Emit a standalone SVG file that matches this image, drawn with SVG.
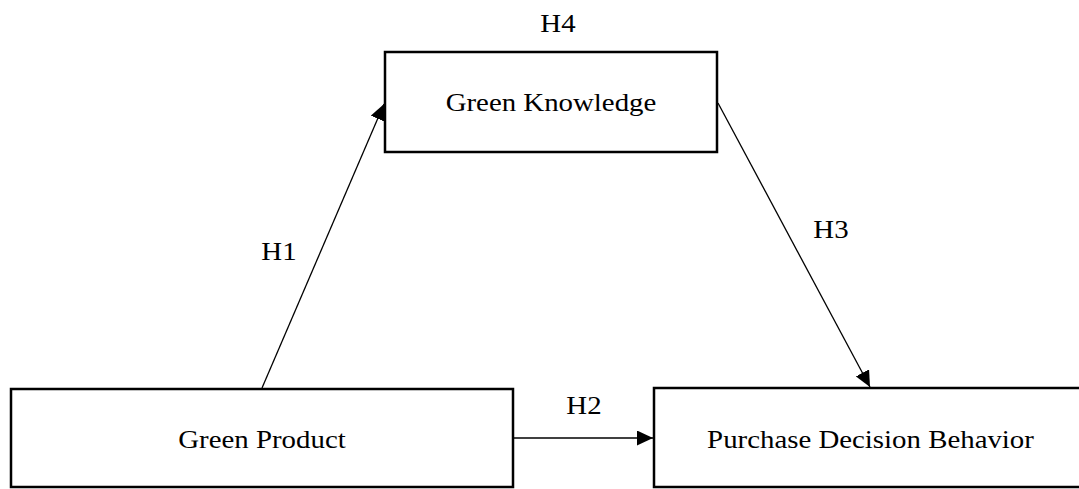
<svg xmlns="http://www.w3.org/2000/svg" width="1079" height="489" viewBox="0 0 1079 489">
  <style>
    .box { fill: #ffffff; stroke: #000000; stroke-width: 2.5; }
    .lbl { font-family: 'Liberation Serif', 'Times New Roman', Times, serif; font-size: 26px; fill: #000000; text-anchor: middle; }
    .edge { stroke: #000000; stroke-width: 1.3; fill: none; marker-end: url(#arrow); }
  </style>
  <defs>
    <marker id="arrow" markerUnits="userSpaceOnUse" markerWidth="16" markerHeight="15" refX="16" refY="7.5" orient="auto">
      <path d="M0,0 L16,7.5 L0,15 z" fill="#000000"/>
    </marker>
  </defs>
  <rect width="1079" height="489" fill="#ffffff"/>
  <g id="connectors">
    <line class="edge" x1="262" y1="388" x2="384" y2="104"/>
    <line class="edge" x1="718" y1="103" x2="870" y2="387"/>
    <line class="edge" x1="514" y1="438" x2="653" y2="438"/>
    <text class="lbl" x="279" y="260" transform="translate(279 0) scale(1.11 1) translate(-279 0)">H1</text>
    <text class="lbl" x="584" y="414" transform="translate(584 0) scale(1.11 1) translate(-584 0)">H2</text>
    <text class="lbl" x="831" y="238" transform="translate(831 0) scale(1.11 1) translate(-831 0)">H3</text>
  </g>
  <g id="green-knowledge">
    <text class="lbl" x="558" y="32" transform="translate(558 0) scale(1.11 1) translate(-558 0)">H4</text>
    <rect class="box" x="385" y="52" width="332" height="100"/>
    <text class="lbl" x="551" y="111" transform="translate(551 0) scale(1.11 1) translate(-551 0)">Green Knowledge</text>
  </g>
  <g id="green-product">
    <rect class="box" x="11" y="389" width="502" height="98"/>
    <text class="lbl" x="262" y="448" transform="translate(262 0) scale(1.11 1) translate(-262 0)">Green Product</text>
  </g>
  <g id="purchase-decision-behavior">
    <rect class="box" x="654" y="388" width="440" height="99"/>
    <text class="lbl" x="870.5" y="448" transform="translate(870.5 0) scale(1.11 1) translate(-870.5 0)">Purchase Decision Behavior</text>
  </g>
</svg>
